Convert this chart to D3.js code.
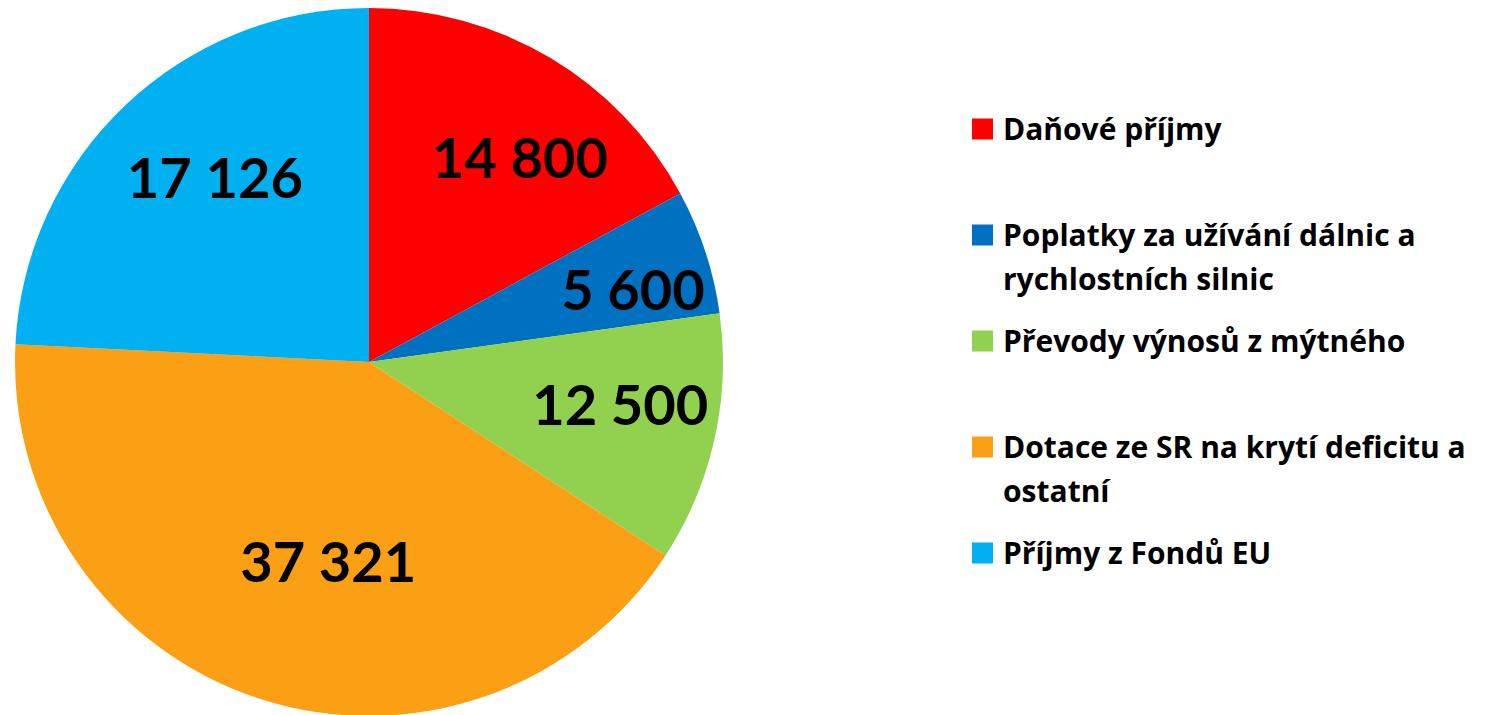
<!DOCTYPE html>
<html lang="cs">
<head>
<meta charset="UTF-8">
<title>Příjmy</title>
<style>
  body { margin: 0; background: #fff; }
  svg { display: block; font-weight: bold; }
</style>
</head>
<body>
<script src="https://cdn.jsdelivr.net/npm/d3@7/dist/d3.min.js"></script>
<script>
var categories = ['Daňové příjmy', 'Poplatky za užívání dálnic a rychlostních silnic',
  'Převody výnosů z mýtného', 'Dotace ze SR na krytí deficitu a ostatní', 'Příjmy z Fondů EU'];
// numbers printed on the slices
var values = [14800, 5600, 12500, 37321, 17126];
// slice sizes as drawn in the picture (percent of the circle)
var shares = [17.1, 5.7, 11.4, 41.6, 24.2];
var colors = ['#ff0000', '#0070c0', '#92d050', '#fb9f14', '#00b0f0'];

// label placement tweaks (radius factor, angle shift in degrees), like Excel best fit
var labelRadius = [0.717, 0.773, 0.72, 0.577, 0.678];
var labelShift = [5.75, 2.9, -2.95, -6.5, 3.6];

var W = 1490, H = 715;
var cx = 369, cy = 362, R = 354;

var svg = d3.select('body').append('svg')
    .attr('width', W)
    .attr('height', H);

var fmt = function(v) { return d3.format(',')(v).replace(/,/g, ' '); };

var pie = d3.pie().sort(null).value(function(d) { return d.share; });
var arcs = pie(values.map(function(v, i) { return { value: v, share: shares[i] }; }));
var arc = d3.arc().innerRadius(0).outerRadius(R);

var g = svg.append('g').attr('transform', 'translate(' + cx + ',' + cy + ')');

g.selectAll('path')
    .data(arcs)
    .enter()
    .append('path')
    .attr('d', arc)
    .attr('fill', function(d, i) { return colors[i]; });

function labelAngle(d, i) {
    return (d.startAngle + d.endAngle) / 2 + labelShift[i] * Math.PI / 180;
}

g.selectAll('text.lbl')
    .data(arcs)
    .enter()
    .append('text')
    .attr('class', 'lbl')
    .attr('x', function(d, i) { return Math.sin(labelAngle(d, i)) * R * labelRadius[i]; })
    .attr('y', function(d, i) { return -Math.cos(labelAngle(d, i)) * R * labelRadius[i]; })
    .attr('text-anchor', 'middle')
    .attr('dy', '0.36em')
    .attr('font-family', 'Lato, "Open Sans", sans-serif')
    .attr('font-size', 56)
    .attr('fill', '#000')
    .text(function(d) { return fmt(d.data.value); });

// legend
var legX = 972, legY = 129, legStep = 106, lineH = 44, maxW = 495;
var leg = svg.append('g')
    .attr('font-family', '"Open Sans", "Noto Sans", sans-serif')
    .attr('font-size', 30);
categories.forEach(function(name, i) {
    var y = legY + i * legStep;
    leg.append('rect')
        .attr('x', legX)
        .attr('y', y - 10.5)
        .attr('width', 21)
        .attr('height', 21)
        .attr('fill', colors[i]);
    var t = leg.append('text')
        .attr('fill', '#000');
    var words = name.split(' ');
    var line = [], lineNo = 0;
    var ts = t.append('tspan').attr('x', legX + 31).attr('y', y).attr('dy', '0.36em');
    words.forEach(function(w) {
        line.push(w);
        ts.text(line.join(' '));
        if (ts.node().getComputedTextLength() > maxW && line.length > 1) {
            line.pop();
            ts.text(line.join(' '));
            line = [w];
            lineNo++;
            ts = t.append('tspan').attr('x', legX + 31).attr('y', y + lineNo * lineH)
                .attr('dy', '0.36em').text(w);
        }
    });
});
</script>
</body>
</html>
